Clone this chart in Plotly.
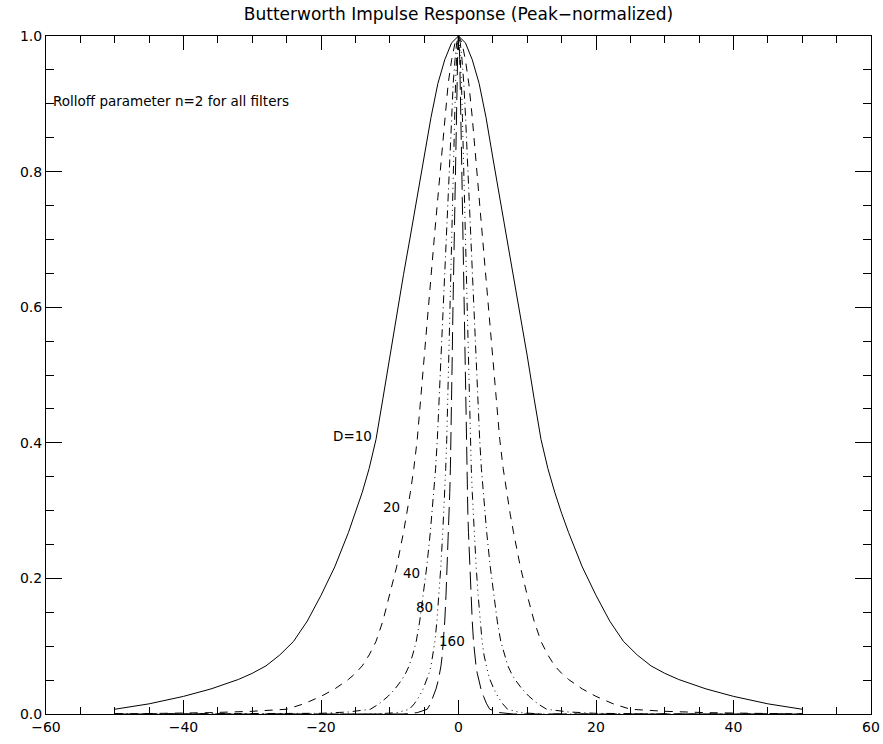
import plotly.graph_objects as go

# Half-profiles (x >= 0); each curve is symmetric about x=0
x_d10 = [0, 1, 2, 3, 4, 5, 6, 7, 8, 9, 10, 11, 12, 13, 14, 15, 16, 18, 20, 22, 24, 26, 28, 30, 32, 36, 40, 45, 50]
y_d10 = [1, 0.99, 0.965, 0.93, 0.88, 0.82, 0.762, 0.705, 0.648, 0.59, 0.528, 0.465, 0.405, 0.362, 0.327, 0.296,
         0.268, 0.217, 0.175, 0.137, 0.107, 0.087, 0.071, 0.06, 0.051, 0.037, 0.026, 0.015, 0.007]

x_d20 = [0, 0.5, 1, 1.5, 2, 2.5, 3, 3.5, 4, 4.5, 5, 5.5, 6, 6.5, 7, 7.5, 8, 9, 10, 11, 12, 13, 14, 15, 16, 18, 20,
         22.5, 25, 30, 36, 42, 50]
y_d20 = [1, 0.99, 0.965, 0.93, 0.88, 0.82, 0.762, 0.705, 0.648, 0.59, 0.528, 0.465, 0.405, 0.362, 0.327, 0.296,
         0.268, 0.217, 0.175, 0.137, 0.107, 0.087, 0.071, 0.06, 0.051, 0.037, 0.026, 0.015, 0.007, 0.004, 0.002,
         0.001, 0.0]

x_d40 = [0, 0.26, 0.51, 0.77, 1.03, 1.28, 1.54, 1.79, 2.05, 2.31, 2.56, 2.82, 3.08, 3.33, 3.59, 3.85, 4.1, 4.62,
         5.13, 5.64, 6.15, 6.67, 7.18, 7.69, 8.21, 9.23, 10.26, 11.54, 12.82, 16, 20, 30, 50]
y_d40 = [1, 0.99, 0.965, 0.93, 0.88, 0.82, 0.762, 0.705, 0.648, 0.59, 0.528, 0.465, 0.405, 0.362, 0.327, 0.296,
         0.268, 0.217, 0.175, 0.137, 0.107, 0.087, 0.071, 0.06, 0.051, 0.037, 0.026, 0.015, 0.007, 0.003, 0.001,
         0.0, 0.0]

x_d80 = [0, 0.14, 0.29, 0.43, 0.57, 0.71, 0.86, 1.0, 1.14, 1.29, 1.43, 1.57, 1.71, 1.86, 2.0, 2.14, 2.29, 2.57,
         2.86, 3.14, 3.43, 3.71, 4.0, 4.29, 4.57, 5.14, 5.71, 6.43, 7.14, 9, 12, 20, 50]
y_d80 = [1, 0.99, 0.965, 0.93, 0.88, 0.82, 0.762, 0.705, 0.648, 0.59, 0.528, 0.465, 0.405, 0.362, 0.327, 0.296,
         0.268, 0.217, 0.175, 0.137, 0.107, 0.087, 0.071, 0.06, 0.051, 0.037, 0.026, 0.015, 0.007, 0.002, 0.0,
         0.0, 0.0]

x_d160 = [0, 0.09, 0.18, 0.27, 0.36, 0.45, 0.55, 0.64, 0.73, 0.82, 0.91, 1.0, 1.09, 1.18, 1.27, 1.36, 1.45, 1.64,
          1.82, 2.0, 2.18, 2.36, 2.55, 2.73, 2.91, 3.27, 3.64, 4.09, 4.55, 6, 8, 20, 50]
y_d160 = [1, 0.99, 0.965, 0.93, 0.88, 0.82, 0.762, 0.705, 0.648, 0.59, 0.528, 0.465, 0.405, 0.362, 0.327, 0.296,
          0.268, 0.217, 0.175, 0.137, 0.107, 0.087, 0.071, 0.06, 0.051, 0.037, 0.026, 0.015, 0.007, 0.002, 0.0,
          0.0, 0.0]

labels = ["D=10", "20", "40", "80", "160"]
label_x = [-12.3, -8.2, -5.3, -3.4, -3.1]
label_y = [0.41, 0.305, 0.208, 0.158, 0.108]
label_anchor = ["right", "right", "right", "right", "left"]

title_text = "Butterworth Impulse Response (Peak\u2212normalized)"
note_text = "Rolloff parameter n=2 for all filters"
x_ticks = [-60, -40, -20, 0, 20, 40, 60]
y_ticks = [0.0, 0.2, 0.4, 0.6, 0.8, 1.0]

curves = [
    (x_d10, y_d10, "solid"),
    (x_d20, y_d20, "8px,7px"),
    (x_d40, y_d40, "8px,4px,1px,4px"),
    (x_d80, y_d80, "8px,4px,1px,4px,1px,4px,1px,4px"),
    (x_d160, y_d160, "18px,7px"),
]

fig = go.Figure()
for xs, ys, dash in curves:
    full_x = [-v for v in reversed(xs[1:])] + list(xs)
    full_y = list(reversed(ys[1:])) + list(ys)
    fig.add_trace(go.Scatter(x=full_x, y=full_y, mode="lines",
                             line=dict(color="black", width=1, dash=dash),
                             showlegend=False, hoverinfo="skip"))

font = dict(family="DejaVu Sans, Liberation Sans, sans-serif", color="black")

for t, lx, ly, anc in zip(labels, label_x, label_y, label_anchor):
    fig.add_annotation(x=lx, y=ly, text=t, showarrow=False, xanchor=anc, yanchor="middle",
                       font=dict(size=13.5, **font))

fig.add_annotation(x=-59.3, y=0.904, text=note_text, showarrow=False, xanchor="left",
                   yanchor="middle", font=dict(size=13.5, **font))

fig.update_layout(
    width=883, height=744,
    margin=dict(l=45.5, r=12, t=36, b=30, autoexpand=False),
    paper_bgcolor="white", plot_bgcolor="white",
    title=dict(text=title_text, x=0.5, xref="paper", y=1 - 14 / 744, yref="container",
               xanchor="center", yanchor="middle", font=dict(size=17, **font), automargin=False),
    font=font,
)
fig.update_xaxes(range=[-60, 60], tickvals=x_ticks, ticktext=[str(v).replace("-", "\u2212") for v in x_ticks],
                 showgrid=False, zeroline=False, showline=True, linecolor="black", linewidth=1,
                 mirror="allticks", ticks="inside", ticklen=14, tickcolor="black", tickwidth=1,
                 tickfont=dict(size=14, **font), automargin=False,
                 minor=dict(ticks="inside", ticklen=7, dtick=5, tick0=0, tickcolor="black", showgrid=False))
fig.update_yaxes(range=[0, 1], tickvals=y_ticks, ticktext=["%.1f" % v for v in y_ticks],
                 showgrid=False, zeroline=False, showline=True, linecolor="black", linewidth=1,
                 mirror="allticks", ticks="inside", ticklen=16, tickcolor="black", tickwidth=1,
                 tickfont=dict(size=14, **font), automargin=False,
                 minor=dict(ticks="inside", ticklen=8, dtick=0.05, tick0=0, tickcolor="black", showgrid=False))

fig.write_html("out.html", config={"displayModeBar": False},
               post_script="document.body.style.margin='0';document.body.style.overflow='hidden';")
